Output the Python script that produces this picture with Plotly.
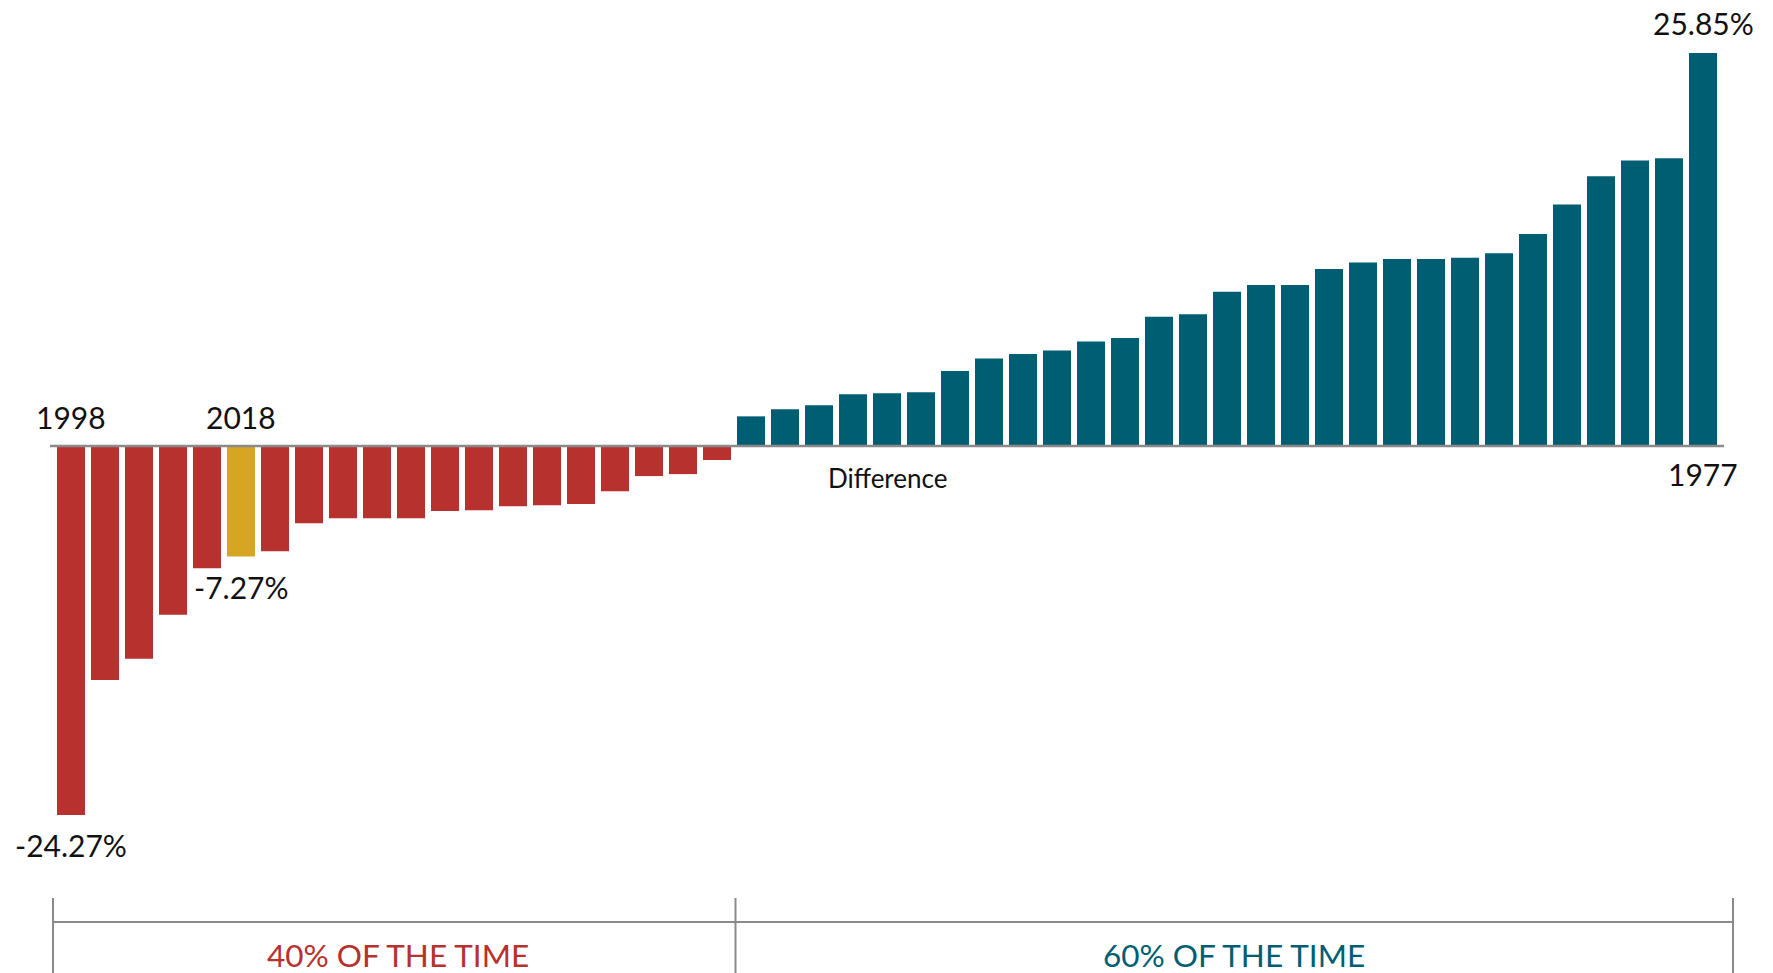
import plotly.graph_objects as go

# Yearly return difference, sorted from worst to best (percent)
negative_diffs = [-24.27, -15.4, -14.0, -11.1, -8.04, -7.27, -6.92, -5.08, -4.75, -4.75,
                  -4.75, -4.28, -4.22, -3.96, -3.89, -3.82, -2.97, -1.98, -1.85, -0.92]
positive_diffs = [1.95, 2.41, 2.68, 3.40, 3.47, 3.53, 4.94, 5.76, 6.06, 6.28,
                  6.88, 7.10, 8.51, 8.66, 10.15, 10.60, 10.60, 11.64, 12.08, 12.31,
                  12.31, 12.38, 12.68, 13.94, 15.88, 17.74, 18.78, 18.93, 25.85]
values = negative_diffs + positive_diffs

# Years called out above / below particular bars
year_labels = {0: "1998", 5: "2018", len(values) - 1: "1977"}
highlight_year_index = 5

RED = "#B7312E"
TEAL = "#005E73"
GOLD = "#D6A522"
GRAY = "#8A8A8A"
FONT = "Lato"

colors = []
for i, v in enumerate(values):
    if i == highlight_year_index:
        colors.append(GOLD)
    elif v < 0:
        colors.append(RED)
    else:
        colors.append(TEAL)

x = list(range(len(values)))

fig = go.Figure(go.Bar(
    x=x, y=values, marker=dict(color=colors, line=dict(width=0)),
    hoverinfo="skip",
))

W, H = 1773, 973
ML, MR, MT, MB = 54, 53, 20, 71
plot_w = W - ML - MR
plot_h = H - MT - MB


def px_x(p):
    return (p - ML) / plot_w


def px_y(p):
    return (H - MB - p) / plot_h


shapes = []
# zero baseline
shapes.append(dict(type="line", xref="paper", yref="y", x0=px_x(50), x1=px_x(1724),
                   y0=0, y1=0, line=dict(color=GRAY, width=2.5), layer="above"))
# bracket under the bars
for bx in (53, 735.5, 1733):
    shapes.append(dict(type="line", xref="paper", yref="paper", x0=px_x(bx), x1=px_x(bx),
                       y0=px_y(898), y1=px_y(975), line=dict(color=GRAY, width=2)))
shapes.append(dict(type="line", xref="paper", yref="paper", x0=px_x(53), x1=px_x(1733),
                   y0=px_y(922), y1=px_y(922), line=dict(color=GRAY, width=2)))

label_font = dict(family=FONT, size=30, color="#111111")
annotations = []
n_neg = len(negative_diffs)
n_pos = len(positive_diffs)
# year labels
for i, txt in year_labels.items():
    shift = 29 if values[i] < 0 else -28
    annotations.append(dict(x=i, y=0, text=txt, showarrow=False, font=label_font,
                            yanchor="middle", yshift=shift))
# value labels for extremes and the highlighted year
for i in (0, highlight_year_index, len(values) - 1):
    v = values[i]
    shift = -30 if v < 0 else 30
    annotations.append(dict(x=i, y=v, text=f"{v:.2f}%", showarrow=False, font=label_font,
                            yanchor="middle", yshift=shift))
annotations.append(dict(x=24, y=0, text="Difference", showarrow=False,
                        font=dict(family=FONT, size=26, color="#111111"),
                        yanchor="middle", yshift=-32))
share_neg = round(100 * n_neg / len(values), -1)
share_pos = round(100 * n_pos / len(values), -1)
annotations.append(dict(xref="paper", yref="paper", x=px_x(398), y=px_y(955),
                        text=f"{share_neg:.0f}% OF THE TIME", showarrow=False,
                        font=dict(family=FONT, size=31.5, color=RED),
                        xanchor="center", yanchor="middle"))
annotations.append(dict(xref="paper", yref="paper", x=px_x(1234), y=px_y(955),
                        text=f"{share_pos:.0f}% OF THE TIME", showarrow=False,
                        font=dict(family=FONT, size=31.5, color=TEAL),
                        xanchor="center", yanchor="middle"))

fig.update_layout(
    width=W, height=H,
    margin=dict(l=ML, r=MR, t=MT, b=MB, pad=0),
    paper_bgcolor="white", plot_bgcolor="white",
    bargap=6 / 34,
    showlegend=False,
    xaxis=dict(range=[-0.5, len(values) - 0.5], visible=False, fixedrange=True),
    yaxis=dict(range=[-30.0, 28.026], visible=False, fixedrange=True),
    shapes=shapes,
    annotations=annotations,
)

fig.write_html("out.html", config={"displayModeBar": False})
